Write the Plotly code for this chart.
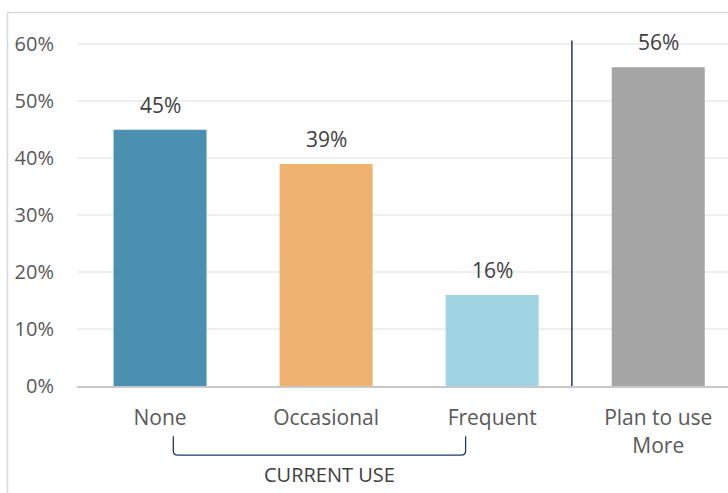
import plotly.graph_objects as go

# Survey results: share of respondents by usage group
categories = ["None", "Occasional", "Frequent", "Plan to use<br>More"]
shares = [0.45, 0.39, 0.16, 0.56]
bar_colors = ["#4B90B0", "#EFB16E", "#A1D4E2", "#A5A5A5"]
y_ticks = [0, 0.1, 0.2, 0.3, 0.4, 0.5, 0.6]
y_tick_labels = ["0%", "10%", "20%", "30%", "40%", "50%", "60%"]
group_label = "CURRENT USE"

FONT = "Open Sans"
TEXT_GREY = "#595959"
LABEL_GREY = "#404040"
NAVY = "#1F3864"

fig = go.Figure()
fig.add_trace(go.Bar(
    x=categories,
    y=shares,
    marker=dict(color=bar_colors, line=dict(width=0)),
    width=0.56,
    hoverinfo="skip",
))

# value labels above each bar
for cat, val in zip(categories, shares):
    fig.add_annotation(
        x=cat, y=val, xref="x", yref="y",
        text=f"{round(val * 100)}%",
        showarrow=False, yanchor="bottom", yshift=9,
        font=dict(family=FONT, size=21, color=LABEL_GREY),
    )

# divider between current use and future intent
fig.add_shape(
    type="line", xref="x", yref="paper",
    x0=2.48, x1=2.48, y0=0, y1=0.979,
    line=dict(color=NAVY, width=1.5),
)

# bracket grouping the three current-use categories
bx0, bx1 = 0.08, 1.84
yt, yb = -0.142, -0.196
r = 0.012
fig.add_shape(
    type="path", xref="x", yref="paper",
    path=(f"M {bx0},{yt} L {bx0},{yb + r} Q {bx0},{yb} {bx0 + 0.03},{yb} "
          f"L {bx1 - 0.03},{yb} Q {bx1},{yb} {bx1},{yb + r} L {bx1},{yt}"),
    line=dict(color=NAVY, width=1.3),
)
fig.add_annotation(
    x=1.02, y=-0.252, xref="x", yref="paper",
    text=group_label, showarrow=False, yanchor="middle",
    font=dict(family=FONT, size=20, color=LABEL_GREY),
)

# outer chart frame (left and top edges visible)
fig.add_shape(
    type="line", xref="paper", yref="paper",
    x0=-0.1068, x1=-0.1068, y0=-0.4, y1=1.0583,
    line=dict(color="#D9D9D9", width=1.5),
)
fig.add_shape(
    type="line", xref="paper", yref="paper",
    x0=-0.1068, x1=1.1, y0=1.0583, y1=1.0583,
    line=dict(color="#D9D9D9", width=1.5),
)

fig.update_layout(
    width=728, height=493,
    margin=dict(l=77, r=0, t=33, b=107),
    plot_bgcolor="white", paper_bgcolor="white",
    showlegend=False,
    bargap=0.44,
    xaxis=dict(
        range=[-0.5, 3.42],
        showgrid=False, zeroline=False,
        showline=True, linecolor="#C8C8C8", linewidth=2,
        ticks="", ticklabelstandoff=12,
        tickfont=dict(family=FONT, size=21, color=TEXT_GREY),
        fixedrange=True,
    ),
    yaxis=dict(
        range=[0, 0.62],
        tickvals=y_ticks, ticktext=y_tick_labels,
        showgrid=True, gridcolor="#EFEFEF", gridwidth=1.5,
        zeroline=False, showline=False,
        ticks="", ticklabelstandoff=22,
        tickfont=dict(family=FONT, size=20, color=TEXT_GREY),
        fixedrange=True,
    ),
)

fig.write_html("out.html")
